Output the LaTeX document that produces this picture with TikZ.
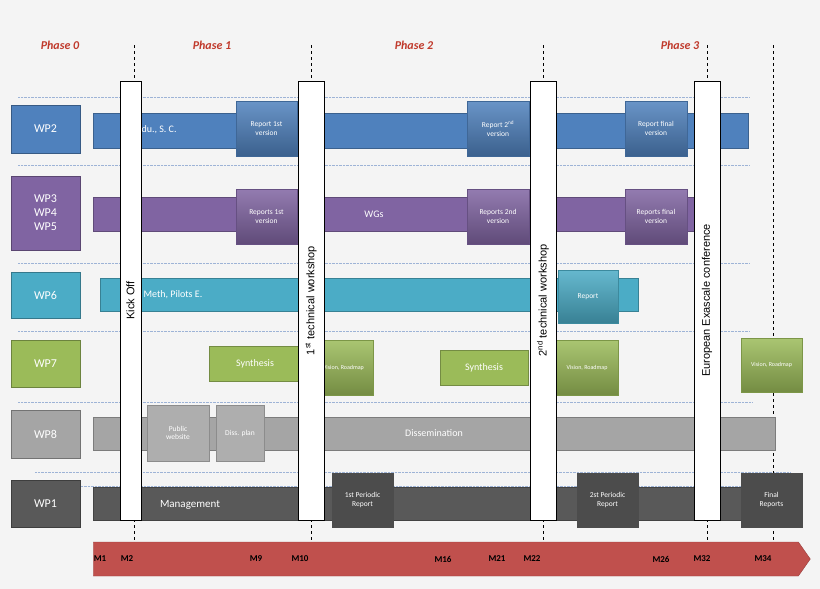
\documentclass[tikz,border=0pt]{standalone}
\usepackage{fontspec}
\setmainfont{Carlito}
\newfontfamily\vfont{Liberation Sans}
\usetikzlibrary{shapes.arrows}

\definecolor{bgGray}{HTML}{F4F4F4}
\definecolor{wpBlue}{HTML}{4F81BD}
\definecolor{wpPurple}{HTML}{8064A2}
\definecolor{wpTeal}{HTML}{4BACC6}
\definecolor{wpGreen}{HTML}{9BBB59}
\definecolor{wpGray}{HTML}{A5A5A5}
\definecolor{wpDark}{HTML}{595959}
\definecolor{phaseRed}{HTML}{C0392B}
\definecolor{arrowRed}{HTML}{C0504D}
\definecolor{gridBlue}{HTML}{9DB3D6}

\tikzset{
  blk/.style={rectangle, inner sep=1pt, outer sep=0pt, align=center, text=white, font=\fontsize{7.5}{8.5}\selectfont},
  wp/.style={blk, draw=#1!70!black, fill=#1, font=\fontsize{12}{14}\selectfont},
  bar/.style={blk, draw=#1!75!black, fill=#1, font=\fontsize{10}{12}\selectfont},
  hl/.style={blk, draw=#1!80!black, top color=#1!85!white, bottom color=#1!75!black},
  event/.style={rectangle, draw=black, thick, fill=white, inner sep=0pt, outer sep=0pt},
  phase/.style={text=phaseRed, font=\bfseries\itshape\fontsize{12}{14}\selectfont},
  mile/.style={font=\bfseries\fontsize{9}{10}\selectfont},
  grid/.style={gridBlue, densely dotted, thin},
  stone/.style={black, dashed, thick}
}
% box from (x1,y1) to (x2,y2)
\newcommand\pbox[7]{\node[#1, minimum width={(#4-#2)*1pt}, minimum height={(#5-#3)*1pt}]
  (#7) at ({(#2+#4)/2},{(#3+#5)/2}) {#6};}

\begin{document}
\begin{tikzpicture}[x=1pt, y=-1pt]
\fill[bgGray] (0,0) rectangle (820,589);
\useasboundingbox (0,0) rectangle (820,589);

% phases
\node[phase] (ph0) at (60,45) {Phase 0};
\node[phase] (ph1) at (212,45) {Phase 1};
\node[phase] (ph2) at (414,45) {Phase 2};
\node[phase] (ph3) at (680,45) {Phase 3};

% grid lines
\foreach \y/\a/\b in {97/18/750, 165/18/750, 263/18/750, 331/18/750, 402/18/752, 472/35/790, 486/50/790}
  \draw[grid] (\a,\y) -- (\b,\y);

% milestone lines
\foreach \x in {134, 311, 543, 707, 773}
  \draw[stone] (\x,45) -- (\x,545);

% work packages
\pbox{wp=wpBlue}{11}{105}{80}{153}{WP2}{wp2}
\pbox{wp=wpPurple}{11}{176}{80}{250}{WP3\\WP4\\WP5}{wp3}
\pbox{wp=wpTeal}{11}{272}{80}{318}{WP6}{wp6}
\pbox{wp=wpGreen}{11}{340}{80}{387}{WP7}{wp7}
\pbox{wp=wpGray}{11}{410}{80}{458}{WP8}{wp8}
\pbox{wp=wpDark}{11}{480}{80}{527}{WP1}{wp1}

% bars
\pbox{bar=wpBlue}{93}{113}{748}{148}{}{barTwo}
\node[text=white, font=\fontsize{10}{12}\selectfont, anchor=west] (eduTxt) at (138,130) {du., S. C.};
\pbox{bar=wpPurple}{93}{197}{705}{231}{\hspace*{-50pt}WGs}{barThree}
\pbox{bar=wpTeal}{100}{278}{638}{311}{}{barSix}
\node[text=white, font=\fontsize{10}{12}\selectfont, anchor=west] (methTxt) at (140,295) {Meth, Pilots E.};
\pbox{bar=wpGray}{93}{417}{775}{450}{Dissemination}{barEight}
\pbox{bar=wpDark}{93}{487}{780}{520}{}{barOne}
\node[text=white, font=\fontsize{11}{13}\selectfont] (mgmtTxt) at (190,505) {Management};

% highlighted deliverables
\pbox{hl=wpBlue}{236}{101}{297}{156}{Report 1st\\version}{repA}
\pbox{hl=wpBlue}{467}{101}{529}{156}{Report 2\textsuperscript{nd}\\version}{repB}
\pbox{hl=wpBlue}{625}{101}{687}{156}{Report final\\version}{repC}
\pbox{hl=wpPurple}{236}{189}{297}{244}{Reports 1st\\version}{repsA}
\pbox{hl=wpPurple}{467}{189}{529}{244}{Reports 2nd\\version}{repsB}
\pbox{hl=wpPurple}{625}{189}{687}{244}{Reports final\\version}{repsC}
\pbox{hl=wpTeal}{558}{270}{618}{323}{Report}{repSix}
\pbox{bar=wpGreen}{209}{346}{301}{381}{Synthesis}{synA}
\pbox{bar=wpGreen}{440}{350}{528}{385}{Synthesis}{synB}
\pbox{hl=wpGreen}{314}{340}{373}{395}{\fontsize{6}{7}\selectfont Vision, Roadmap}{visA}
\pbox{hl=wpGreen}{556}{340}{618}{395}{\fontsize{6}{7}\selectfont Vision, Roadmap}{visB}
\pbox{hl=wpGreen}{741}{338}{802}{392}{\fontsize{6}{7}\selectfont Vision, Roadmap}{visC}
\pbox{blk, draw=wpGray!85!black, fill=wpGray!90!white}{147}{405}{209}{461}{Public\\website}{pubWeb}
\pbox{blk, draw=wpGray!85!black, fill=wpGray!90!white}{216}{405}{264}{461}{Diss. plan}{dissPlan}
\pbox{blk, draw=black!70, fill=wpDark!85!black}{332}{473}{393}{527}{1st Periodic\\Report}{perA}
\pbox{blk, draw=black!70, fill=wpDark!85!black}{577}{473}{638}{527}{2st Periodic\\Report}{perB}
\pbox{blk, draw=black!70, fill=wpDark!85!black}{741}{473}{802}{527}{Final\\Reports}{finRep}

% events
\pbox{event}{120}{81}{141}{520}{}{kickOff}
\pbox{event}{298}{81}{324}{520}{}{techA}
\pbox{event}{530}{81}{556}{520}{}{techB}
\pbox{event}{694}{81}{720}{520}{}{confEx}
\node[rotate=90, font=\vfont\fontsize{11}{13}\selectfont] (kickTxt) at (kickOff) {Kick Off};
\node[rotate=90, font=\vfont\fontsize{11}{13}\selectfont] (techATxt) at (techA) {1\textsuperscript{st} technical workshop};
\node[rotate=90, font=\vfont\fontsize{11}{13}\selectfont] (techBTxt) at (techB) {2\textsuperscript{nd} technical workshop};
\node[rotate=90, font=\vfont\fontsize{11}{13}\selectfont] (confTxt) at (confEx) {European Exascale conference};

% time line
\node[single arrow, fill=arrowRed, draw=arrowRed!80!black, minimum height=717pt, minimum width=34pt,
  single arrow head extend=0pt, single arrow tip angle=110, inner sep=0pt, anchor=west] (timeLine) at (93,559) {};
\foreach \x/\m in {100/M1, 127/M2, 256/M9, 300/M10, 443/M16, 497/M21, 532/M22, 661/M26, 702/M32, 763/M34}
  \node[mile] (m\m) at (\x,559) {\m};
\end{tikzpicture}
\end{document}
